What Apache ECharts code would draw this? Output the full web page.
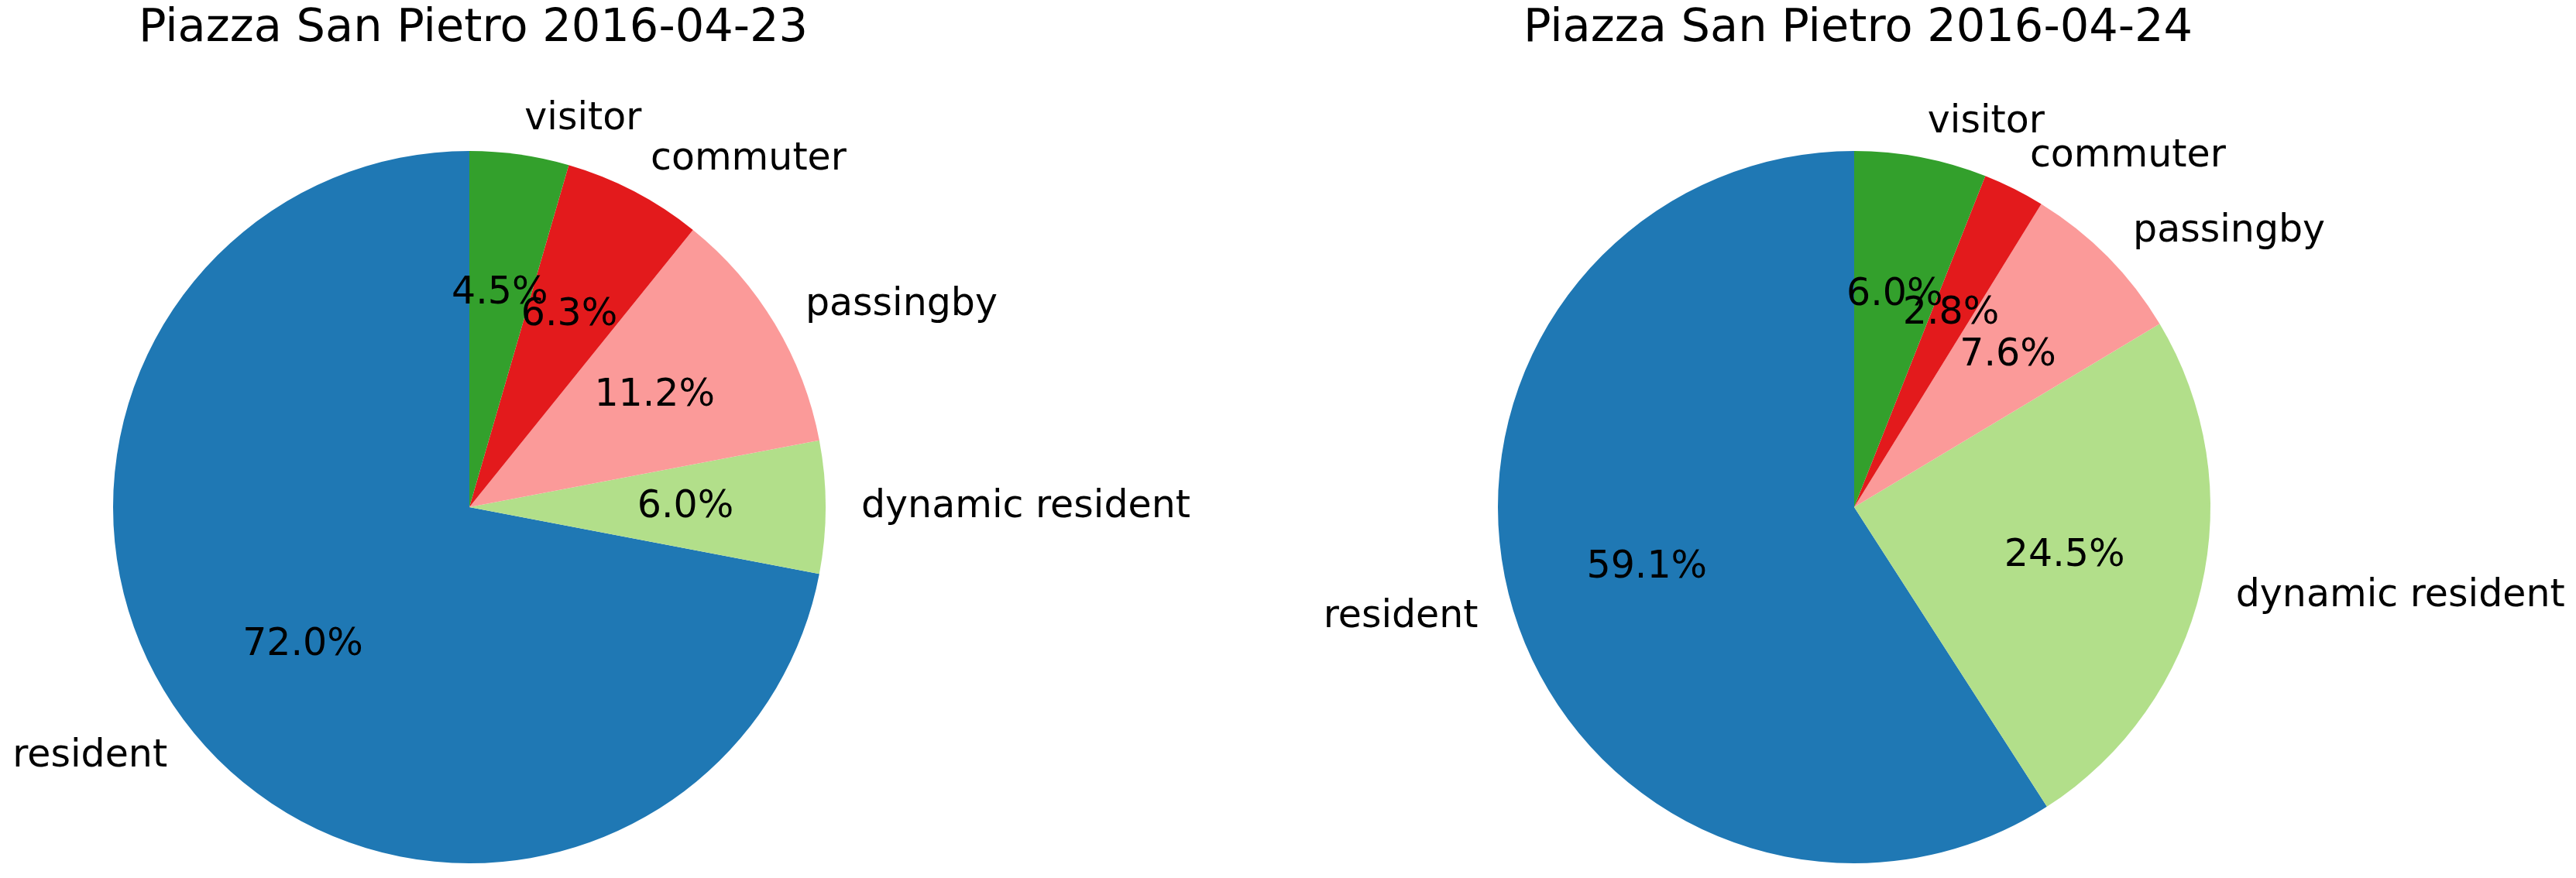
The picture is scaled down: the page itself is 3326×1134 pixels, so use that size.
<!DOCTYPE html>
<html>
<head>
<meta charset="utf-8">
<script src="https://cdn.jsdelivr.net/npm/echarts@6/dist/echarts.min.js"></script>
<style>html,body{margin:0;padding:0;background:#fff}#c{width:3326px;height:1134px}</style>
</head>
<body>
<div id="c"></div>
<script>
const categories = ['resident', 'dynamic resident', 'passingby', 'commuter', 'visitor'];
const colors = ['#1f78b4', '#b2df8a', '#fb9a99', '#e31a1c', '#33a02c'];
const titles = ['Piazza San Pietro 2016-04-23', 'Piazza San Pietro 2016-04-24'];
const values0423 = [72.0, 6.0, 11.2, 6.3, 4.5];
const values0424 = [59.1, 24.5, 7.6, 2.8, 6.0];

const FONT = 'DejaVu Sans';
const R = 460;
const centers = [[606, 655], [2394, 655]];
const allValues = [values0423, values0424];

const chart = echarts.init(document.getElementById('c'), null, {renderer: 'canvas'});
const series = [];
allValues.forEach((vals, i) => {
  const data = categories.map((c, k) => ({name: c, value: vals[k], itemStyle: {color: colors[k]}}));
  series.push({
    type: 'pie', center: centers[i], radius: [0, R],
    startAngle: 90, clockwise: false, avoidLabelOverlap: false,
    silent: true, animation: false, minShowLabelAngle: 0,
    labelLayout: {hideOverlap: false},
    itemStyle: {borderWidth: 0},
    label: {show: true, position: 'outside', formatter: '{b}', color: '#000',
      fontFamily: FONT, fontSize: 49, distanceToLabelLine: 0},
    labelLine: {show: false, length: R * 0.1, length2: 0},
    emphasis: {disabled: true},
    data: data
  });
  series.push({
    type: 'pie', center: centers[i], radius: [0, R * 1.2],
    startAngle: 90, clockwise: false, avoidLabelOverlap: false,
    silent: true, animation: false, minShowLabelAngle: 0, z: 5,
    labelLayout: {hideOverlap: false},
    itemStyle: {color: 'rgba(0,0,0,0)', borderWidth: 0},
    label: {show: true, position: 'inner', color: '#000', fontFamily: FONT, fontSize: 49,
      formatter: p => p.value.toFixed(1) + '%'},
    labelLine: {show: false},
    emphasis: {disabled: true},
    data: categories.map((c, k) => ({name: c, value: vals[k]}))
  });
});

chart.setOption({
  backgroundColor: '#fff',
  animation: false,
  title: titles.map((t, i) => ({
    text: t, left: centers[i][0], top: 3, textAlign: 'center',
    textStyle: {fontFamily: FONT, fontSize: 59, fontWeight: 'normal', color: '#000'}
  })),
  series: series
});
</script>
</body>
</html>
